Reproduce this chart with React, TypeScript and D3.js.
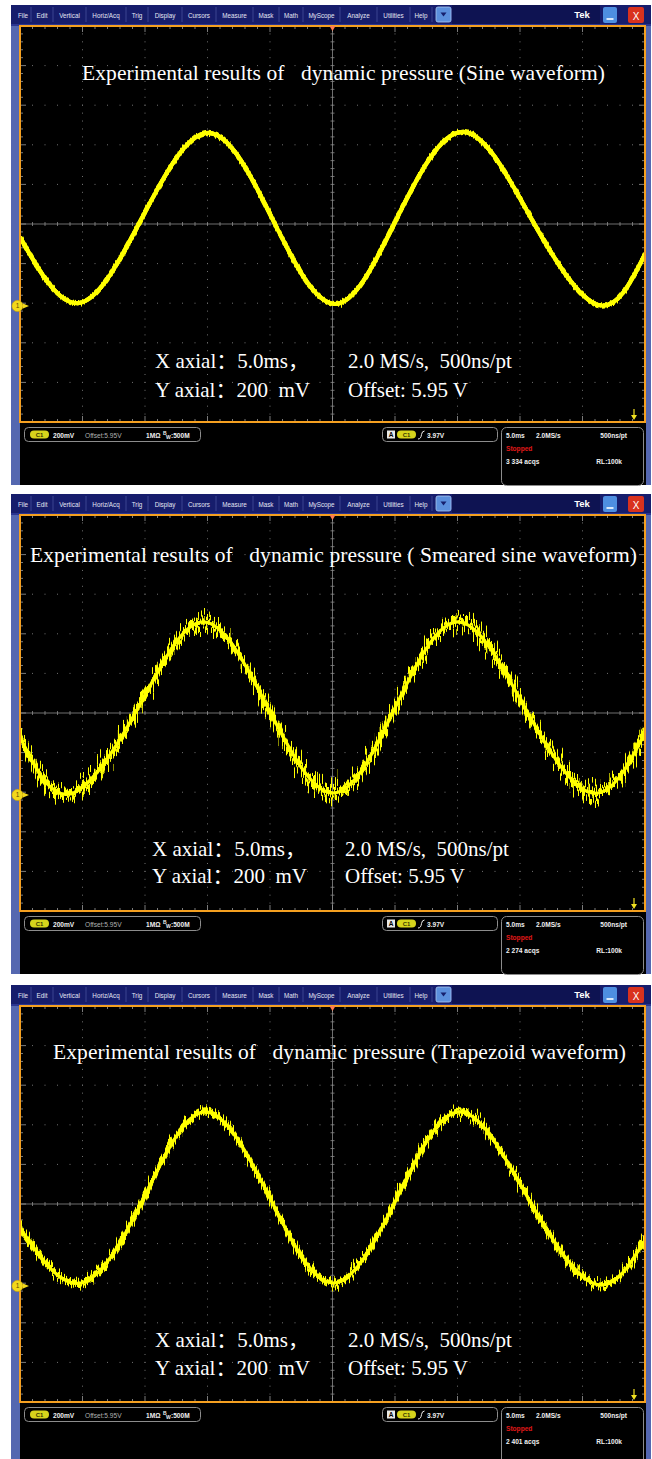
import React from "react";
import * as d3 from "d3";

const W = 652;
const H = 1459;

// ---------- data ----------
const menuItems = ["File", "Edit", "Vertical", "Horiz/Acq", "Trig", "Display", "Cursors", "Measure", "Mask", "Math", "MyScope", "Analyze", "Utilities", "Help"];
// separators of the menu items (layout)
const menuSeparators = [11, 31, 53, 86, 126, 148, 182, 216, 253, 279, 303, 340, 377, 410, 432];

const panelTitles = [
  "Experimental results of   dynamic pressure (Sine waveform)",
  "Experimental results of   dynamic pressure ( Smeared sine waveform)",
  "Experimental results of   dynamic pressure (Trapezoid waveform)",
];
const acqCounts = ["3 334 acqs", "2 274 acqs", "2 401 acqs"];

// waveforms: time (ms) and voltage relative to screen centre (mV)
const sineTimeMs = [0, 4.72, 9.76, 15.04, 20.16, 25.2, 30.16, 35.44, 40.88, 46.24, 50];
const sineMv = [-66, -399, 30, 460, 30, -404, 30, 465, 30, -409, -152];
const smearedTimeMs = [0, 4.0, 9.44, 14.64, 19.84, 25.04, 30.0, 35.04, 40.4, 45.76, 50];
const smearedMv = [-121, -409, 25, 460, 25, -404, 25, 460, 25, -404, -101];
const trapTimeMs = [0, 4.9, 9.9, 14.8, 20.0, 25.04, 30.16, 35.2, 40.64, 46.0, 50];
const trapMv = [-121, -399, 30, 465, 30, -399, 30, 465, 30, -404, -182];

const msPerDiv = 5;
const mvPerDiv = 200;
const divisions = 10;
const groundMv = -414;

const xAxialText = "X axial：5.0ms，";
const rateText = "2.0 MS/s,  500ns/pt";
const yAxialText = "Y axial：200  mV";
const offsetText = "Offset: 5.95 V";

const chScale = "200mV";
const chOffset = "Offset:5.95V";
const chImp = "1MΩ";
const chBw = "500M";
const trigLevel = "3.97V";
const horizScale = "5.0ms";
const sampleRate = "2.0MS/s";
const ptRate = "500ns/pt";
const acqState = "Stopped";
const recLen = "RL:100k";

// ---------- layout ----------
const PANEL_Y = [0, 489, 980];
const L = 20, R = 645, T = 26, B = 422;
const titleX = [82, 30, 53];
const titleY = [80, 73, 79];
const titleW = [523, 607, 573];
const annoX1 = [155, 152, 155];
const annoX2 = [348, 345, 348];
const annoY1 = [368, 367, 367];
const annoY2 = [397, 394, 395];
const noiseScale = [7, 50, 28];
const noiseDilate = [0, 2, 1];
const strokeW = [4.2, 3.2, 3.2];

const waves = [
  { t: sineTimeMs, v: sineMv },
  { t: smearedTimeMs, v: smearedMv },
  { t: trapTimeMs, v: trapMv },
];

const x = d3.scaleLinear().domain([0, msPerDiv * divisions]).range([L, R]);
const y = d3.scaleLinear().domain([-mvPerDiv * divisions / 2, mvPerDiv * divisions / 2]).range([B, T]);

const majorX = d3.range(0, msPerDiv * divisions + 0.001, msPerDiv);
const minorX = d3.range(0, msPerDiv * divisions + 0.001, msPerDiv / 5);
const majorY = d3.range(-mvPerDiv * 5, mvPerDiv * 5 + 0.001, mvPerDiv);
const minorY = d3.range(-mvPerDiv * 5, mvPerDiv * 5 + 0.001, mvPerDiv / 5);

const menuFont = "'Liberation Sans', Arial, sans-serif";
const serif = "'Liberation Serif', 'Times New Roman', 'Noto Sans CJK SC', serif";

function Menu() {
  return (
    <g>
      <rect x={11} y={5} width={640} height={19} fill="#161d6c" />
      <rect x={452} y={5} width={148} height={19} fill="#0e1352" />
      {menuSeparators.slice(1).map((s, i) => (
        <line key={"s" + i} x1={s} x2={s} y1={7} y2={22} stroke="#3a4490" strokeWidth={1} />
      ))}
      {menuItems.map((m, i) => (
        <text key={m} x={(menuSeparators[i] + menuSeparators[i + 1]) / 2 + (i === 0 ? 2 : 0)} y={17.5}
          fill="#e4e6f4" fontSize={6.3} fontFamily={menuFont} textAnchor="middle">{m}</text>
      ))}
      <rect x={436} y={7} width={15} height={15} rx={2} fill="#5b8fdc" stroke="#a9c6f0" strokeWidth={0.8} />
      <path d="M440.5,12.5 L446.5,12.5 L443.5,16.5 Z" fill="#16206c" />
      <text x={582} y={18} fill="#ffffff" fontSize={9.5} fontWeight="bold" fontFamily={menuFont} textAnchor="middle">Tek</text>
      <rect x={603} y={7} width={14} height={16} rx={2} fill="#4e8fe0" />
      <line x1={606.5} x2={613.5} y1={19} y2={19} stroke="#fff" strokeWidth={1.6} />
      <rect x={628} y={7} width={16} height={16} rx={2} fill="#d9321e" />
      <text x={636} y={19.5} fill="#fff" fontSize={10} fontFamily={menuFont} textAnchor="middle">X</text>
    </g>
  );
}

function Grid() {
  const cx = x(msPerDiv * divisions / 2);
  const cy = y(0);
  const dots: JSX.Element[] = [];
  majorX.slice(1, -1).forEach((mx) => {
    if (Math.abs(x(mx) - cx) < 1) return;
    minorY.forEach((my) => dots.push(<rect key={`vx${mx}_${my}`} x={x(mx) - 0.5} y={y(my) - 0.5} width={1} height={1} fill="#707070" />));
  });
  majorY.slice(1, -1).forEach((my) => {
    if (Math.abs(y(my) - cy) < 1) return;
    minorX.forEach((mx) => dots.push(<rect key={`hy${my}_${mx}`} x={x(mx) - 0.5} y={y(my) - 0.5} width={1} height={1} fill="#707070" />));
  });
  const isMajorX = (v: number) => Math.abs(v / msPerDiv - Math.round(v / msPerDiv)) < 1e-6;
  const isMajorY = (v: number) => Math.abs(v / mvPerDiv - Math.round(v / mvPerDiv)) < 1e-6;
  return (
    <g>
      {dots}
      <line x1={L} x2={R} y1={cy} y2={cy} stroke="#8a8a8a" strokeWidth={0.8} />
      <line x1={cx} x2={cx} y1={T} y2={B} stroke="#8a8a8a" strokeWidth={0.8} />
      {minorX.map((v) => (
        <g key={"tx" + v}>
          <line x1={x(v)} x2={x(v)} y1={T} y2={T + (isMajorX(v) ? 6 : 3)} stroke="#9a9a9a" strokeWidth={0.8} />
          <line x1={x(v)} x2={x(v)} y1={B} y2={B - (isMajorX(v) ? 6 : 3)} stroke="#9a9a9a" strokeWidth={0.8} />
          <line x1={x(v)} x2={x(v)} y1={cy - 2} y2={cy + 2} stroke="#8a8a8a" strokeWidth={0.8} />
        </g>
      ))}
      {minorY.map((v) => (
        <g key={"ty" + v}>
          <line y1={y(v)} y2={y(v)} x1={L} x2={L + (isMajorY(v) ? 6 : 3)} stroke="#9a9a9a" strokeWidth={0.8} />
          <line y1={y(v)} y2={y(v)} x1={R} x2={R - (isMajorY(v) ? 6 : 3)} stroke="#9a9a9a" strokeWidth={0.8} />
          <line y1={y(v)} y2={y(v)} x1={cx - 2} x2={cx + 2} stroke="#8a8a8a" strokeWidth={0.8} />
        </g>
      ))}
    </g>
  );
}

function Pill({ px, py }: { px: number; py: number }) {
  return (
    <g>
      <rect x={px} y={py} width={19} height={8} rx={4} fill="#d6d41c" />
      <text x={px + 9.5} y={py + 6.5} fontSize={6} fontWeight="bold" fill="#3a3a00" fontFamily={menuFont} textAnchor="middle">C1</text>
    </g>
  );
}

function Info({ i }: { i: number }) {
  const f = { fontFamily: menuFont, fontSize: 6.6, fontWeight: "bold" as const };
  return (
    <g>
      <rect x={24.5} y={427.5} width={176} height={14} rx={4} fill="none" stroke="#8c8c8c" strokeWidth={1} />
      <Pill px={30} py={430.5} />
      <text x={53} y={437.5} fill="#f0f0f0" {...f}>{chScale}</text>
      <text x={85} y={437.5} fill="#b0b0b0" {...f} fontWeight="normal">{chOffset}</text>
      <text x={146} y={437.5} fill="#f0f0f0" {...f}>{chImp}</text>
      <text x={163} y={435} fill="#f0f0f0" {...f} fontSize={5}>B</text>
      <text x={166} y={439} fill="#f0f0f0" {...f} fontSize={5}>W</text>
      <text x={171} y={437.5} fill="#f0f0f0" {...f}>:{chBw}</text>

      <rect x={382.5} y={427.5} width={115} height={14} rx={4} fill="none" stroke="#8c8c8c" strokeWidth={1} />
      <rect x={387} y={430.5} width={8} height={8} fill="#e8e8e8" />
      <text x={391} y={437.3} fill="#000" {...f} fontSize={6.5} textAnchor="middle">A</text>
      <Pill px={397} py={430.5} />
      <path d="M418,439 Q421,439 421.5,434.5 Q422,431 424.5,431" fill="none" stroke="#f0f0f0" strokeWidth={1} />
      <text x={427} y={437.5} fill="#f0f0f0" {...f}>{trigLevel}</text>

      <rect x={501.5} y={427.5} width={142} height={58} rx={5} fill="none" stroke="#8c8c8c" strokeWidth={1} />
      <text x={506} y={437.5} fill="#f0f0f0" {...f}>{horizScale}</text>
      <text x={536} y={437.5} fill="#f0f0f0" {...f}>{sampleRate}</text>
      <text x={627} y={437.5} fill="#f0f0f0" {...f} textAnchor="end">{ptRate}</text>
      <text x={506} y={451} fill="#e01818" {...f}>{acqState}</text>
      <text x={506} y={464} fill="#f0f0f0" {...f}>{acqCounts[i]}</text>
      <text x={622} y={464} fill="#f0f0f0" {...f} textAnchor="end">{recLen}</text>
    </g>
  );
}

function Panel({ i }: { i: number }) {
  const wave = waves[i];
  const pts: [number, number][] = wave.t.map((t, k) => [t, wave.v[k]]);
  const path = d3.line<[number, number]>().x((d) => x(d[0])).y((d) => y(d[1])).curve(d3.curveNatural)(pts) || "";
  const gy = y(groundMv);
  const cx = x(msPerDiv * divisions / 2);
  const annoStyle = { whiteSpace: "pre" as const };
  return (
    <g transform={`translate(0,${PANEL_Y[i]})`}>
      <defs>
        <clipPath id={`clip${i}`}>
          <rect x={L + 1} y={T + 1} width={R - L - 2} height={B - T - 2} />
        </clipPath>
        <filter id={`noise${i}`} filterUnits="userSpaceOnUse" x={L} y={T} width={R - L} height={B - T} colorInterpolationFilters="sRGB">
          <feTurbulence type="fractalNoise" baseFrequency="0.75 0.04" numOctaves={2} seed={i * 7 + 3} result="t" />
          <feColorMatrix in="t" type="matrix" values="0 0 0 0 0.5  0 1 0 0 0  0 0 0 0 0  0 0 0 0 1" result="m" />
          <feDisplacementMap in="SourceGraphic" in2="m" scale={noiseScale[i]} xChannelSelector="R" yChannelSelector="G" result="d" />
          <feMorphology in="d" operator="dilate" radius={`0 ${noiseDilate[i]}`} result="dd" />
          <feTurbulence type="fractalNoise" baseFrequency="0.9 0.05" numOctaves={1} seed={i * 11 + 5} result="t2" />
          <feColorMatrix in="t2" type="matrix" values="0 0 0 0 0.5  0 1 0 0 0  0 0 0 0 0  0 0 0 0 1" result="m2" />
          <feDisplacementMap in="SourceGraphic" in2="m2" scale={noiseScale[i] * 0.6} xChannelSelector="R" yChannelSelector="G" result="d2" />
          <feMerge>
            <feMergeNode in="dd" />
            <feMergeNode in="d2" />
            <feMergeNode in="SourceGraphic" />
          </feMerge>
        </filter>
      </defs>
      <rect x={11} y={5} width={640} height={480} fill="#5467b0" />
      <Menu />
      <rect x={11} y={24} width={640} height={2} fill="#2a3590" />
      <rect x={L} y={T} width={R - L} height={B - T} fill="#000" />
      <rect x={20} y={423} width={626} height={62} fill="#000" />
      <Grid />
      <g clipPath={`url(#clip${i})`}>
        <path d={path} fill="none" stroke="#ffff00" strokeWidth={strokeW[i]} filter={`url(#noise${i})`} />
      </g>
      <rect x={L} y={T} width={R - L} height={B - T} fill="none" stroke="#f5a020" strokeWidth={2} />
      <path d={`M${cx - 3},${T} L${cx + 3},${T} L${cx},${T + 5} Z`} fill="#ff7a50" />
      <line x1={634} x2={634} y1={409} y2={418} stroke="#f0e020" strokeWidth={1.2} />
      <path d="M631,415 L637,415 L634,420 Z" fill="#f0e020" />
      <circle cx={17.5} cy={gy} r={5.6} fill="#f2d81c" stroke="#c8a000" strokeWidth={0.6} />
      <text x={17.5} y={gy + 2.3} fontSize={6.5} fontFamily={menuFont} fill="#5a4a00" textAnchor="middle">1</text>
      <path d={`M23,${gy - 2.5} L29,${gy} L23,${gy + 2.5} Z`} fill="#f2d81c" />
      <text x={titleX[i]} y={titleY[i]} fill="#ffffff" fontSize={21.5} fontFamily={serif} style={annoStyle}
        textLength={titleW[i]} lengthAdjust="spacing">{panelTitles[i]}</text>
      <text x={annoX1[i]} y={annoY1[i]} fill="#ffffff" fontSize={21} fontFamily={serif} style={annoStyle}>{xAxialText}</text>
      <text x={annoX2[i]} y={annoY1[i]} fill="#ffffff" fontSize={21} fontFamily={serif} style={annoStyle}>{rateText}</text>
      <text x={annoX1[i]} y={annoY2[i]} fill="#ffffff" fontSize={21} fontFamily={serif} style={annoStyle}>{yAxialText}</text>
      <text x={annoX2[i]} y={annoY2[i]} fill="#ffffff" fontSize={21} fontFamily={serif} style={annoStyle}>{offsetText}</text>
      <Info i={i} />
    </g>
  );
}

export default function App() {
  return (
    <svg width={W} height={H} viewBox={`0 0 ${W} ${H}`} style={{ position: "absolute", left: 0, top: 0, display: "block", background: "#ffffff" }}>
      <rect x={0} y={0} width={W} height={H} fill="#ffffff" />
      {[0, 1, 2].map((i) => <Panel key={i} i={i} />)}
    </svg>
  );
}
